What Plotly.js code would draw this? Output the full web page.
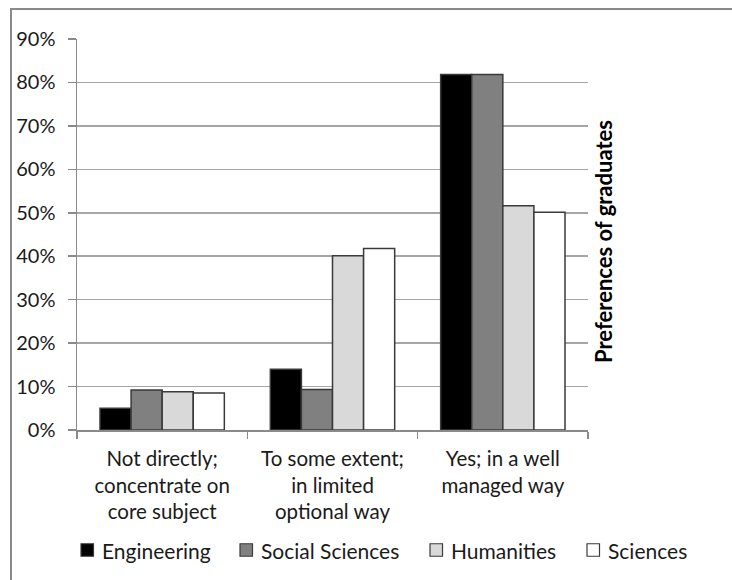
<!DOCTYPE html>
<html>
<head>
<meta charset="utf-8">
<script src="https://cdn.plot.ly/plotly-3.0.1.min.js"></script>
<style>
  html, body { margin: 0; padding: 0; background: #fff; }
  #wrap { position: relative; width: 732px; height: 580px; overflow: hidden; }
  #chart { width: 732px; height: 580px; }
  #frame { position: absolute; left: 10px; top: 8px; width: 760px; height: 620px;
           border-left: 2px solid #8a8a8a; border-top: 2px solid #8a8a8a; pointer-events: none; }
</style>
</head>
<body>
<div id="wrap">
  <div id="chart"></div>
  <div id="frame"></div>
</div>
<script>
const categories = [
  "Not directly;<br>concentrate on<br>core subject",
  "To some extent;<br>in limited<br>optional way",
  "Yes; in a well<br>managed way"
];
const seriesNames = ["Engineering", "Social Sciences", "Humanities", "Sciences"];
const engineering    = [0.050, 0.140, 0.818];
const socialSciences = [0.092, 0.093, 0.818];
const humanities     = [0.088, 0.401, 0.516];
const sciences       = [0.085, 0.418, 0.501];
const seriesValues = [engineering, socialSciences, humanities, sciences];
const yTickValues = [0, 0.1, 0.2, 0.3, 0.4, 0.5, 0.6, 0.7, 0.8, 0.9];
const yTickLabels = ["0%", "10%", "20%", "30%", "40%", "50%", "60%", "70%", "80%", "90%"];
const yAxisTitle = "Preferences of graduates";

// ---- styling / layout configuration (not data) ----
const seriesColors = ["#000000", "#808080", "#d9d9d9", "#ffffff"];
const FONT = "Lato, 'Liberation Sans', sans-serif";
const W = 732, H = 580;
const M = { l: 77, r: 144, t: 39, b: 150 };
const plotW = W - M.l - M.r, plotH = H - M.t - M.b;
const pxToPaperX = px => (px - M.l) / plotW;
const pxToPaperY = py => (H - M.b - py) / plotH;
// custom legend placement (pixels in the page)
const legendSquareLeft = [81, 240, 430, 587];
const legendSquareSize = 12.5;
const legendCenterY = 550;
const legendTextOffset = 19;

const traces = seriesNames.map((name, i) => ({
  type: "bar",
  name: name,
  x: categories,
  y: seriesValues[i],
  marker: { color: seriesColors[i], line: { color: "#3a3a3a", width: 1.5 } },
  hoverinfo: "none"
}));

const shapes = [];
const annotations = [];
seriesNames.forEach((name, i) => {
  const x0 = legendSquareLeft[i];
  shapes.push({
    type: "rect", xref: "paper", yref: "paper",
    x0: pxToPaperX(x0), x1: pxToPaperX(x0 + legendSquareSize),
    y0: pxToPaperY(legendCenterY - legendSquareSize / 2),
    y1: pxToPaperY(legendCenterY + legendSquareSize / 2),
    fillcolor: seriesColors[i], line: { color: "#3a3a3a", width: 1.2 }
  });
  annotations.push({
    text: name, xref: "paper", yref: "paper",
    x: pxToPaperX(x0 + legendTextOffset), y: pxToPaperY(legendCenterY),
    xanchor: "left", yanchor: "middle", showarrow: false,
    font: { family: FONT, size: 21, color: "#1a1a1a" }
  });
});
annotations.push({
  text: "<b>" + yAxisTitle + "</b>",
  xref: "paper", yref: "paper",
  x: pxToPaperX(604), y: pxToPaperY(242), xanchor: "center", yanchor: "middle",
  textangle: -90, showarrow: false,
  font: { family: FONT, size: 22, color: "#000000" }
});

const layout = {
  width: W,
  height: H,
  margin: M,
  paper_bgcolor: "#ffffff",
  plot_bgcolor: "#ffffff",
  font: { family: FONT, size: 20, color: "#1a1a1a" },
  barmode: "group",
  bargap: 0.27,
  bargroupgap: 0,
  showlegend: false,
  xaxis: {
    type: "category",
    showline: true, linecolor: "#8a8a8a", linewidth: 1.5,
    ticks: "outside", tickson: "boundaries", ticklen: 7, tickcolor: "#8a8a8a", tickwidth: 1.5,
    tickfont: { family: FONT, size: 20.5, color: "#1a1a1a" },
    ticklabelstandoff: 10,
    showgrid: false, zeroline: false, fixedrange: true
  },
  yaxis: {
    range: [0, 0.9],
    tickvals: yTickValues, ticktext: yTickLabels,
    showline: true, linecolor: "#8a8a8a", linewidth: 1.5,
    ticks: "outside", ticklen: 8, tickcolor: "#8a8a8a", tickwidth: 1.5,
    showgrid: true, gridcolor: "#a6a6a6", gridwidth: 1.5,
    zeroline: false,
    tickfont: { family: FONT, size: 20, color: "#1a1a1a" },
    ticklabelstandoff: 8,
    fixedrange: true
  },
  shapes: shapes,
  annotations: annotations
};

Plotly.newPlot("chart", traces, layout, { displayModeBar: false, staticPlot: true });
</script>
</body>
</html>
